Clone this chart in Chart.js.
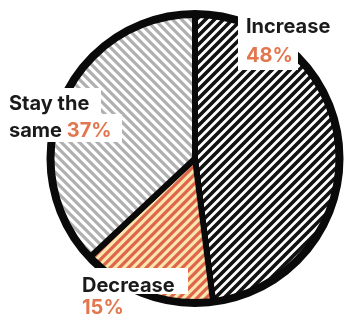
<!DOCTYPE html>
<html>
<head>
<meta charset="utf-8">
<script src="https://cdn.jsdelivr.net/npm/chart.js@4"></script>
<style>
  html, body { margin: 0; padding: 0; background: #fff; }
  #wrap { width: 344px; height: 320px; }
</style>
</head>
<body>
<div id="wrap"><canvas id="chart"></canvas></div>
<script>
// data
const categories = ['Increase', 'Decrease', 'Stay the same'];
const shares = [48, 15, 37];
const shareLabels = shares.map(v => v + '%');

// diagonal stripe tile, dir 1 = "/", dir -1 = "\"
function stripes (fg, bg, size, width, dir) {
    const c = document.createElement('canvas');
    c.width = size;
    c.height = size;
    const g = c.getContext('2d');
    g.fillStyle = bg;
    g.fillRect(0, 0, size, size);
    g.strokeStyle = fg;
    g.lineWidth = width;
    g.beginPath();
    for (let k = -1; k <= 1; k++) {
        const off = k * size;
        if (dir > 0) {
            g.moveTo(off + 2 * size, -size);
            g.lineTo(off - size, 2 * size);
        } else {
            g.moveTo(off - size, -size);
            g.lineTo(off + 2 * size, 2 * size);
        }
    }
    g.stroke();
    return g.createPattern(c, 'repeat');
}

const ctx = document.querySelector('#chart').getContext('2d');
const fills = [
    stripes('#121212', '#ffffff', 9, 3.6, 1),
    stripes('#df644c', '#fbe6ae', 9, 3.2, 1),
    stripes('#b0b0b0', '#ffffff', 9, 3.2, -1)
];

// thick outer ring
const ringPlugin = {
    id: 'ring',
    afterDatasetsDraw (chart) {
        const arc = chart.getDatasetMeta(0).data[0];
        const c = chart.ctx;
        c.save();
        c.beginPath();
        c.arc(arc.x, arc.y, arc.outerRadius, 0, Math.PI * 2);
        c.lineWidth = 8;
        c.strokeStyle = '#0a0a0a';
        c.stroke();
        c.restore();
    }
};

// label boxes with white background
const labelPlugin = {
    id: 'labels',
    afterDraw (chart) {
        const c = chart.ctx;
        const dark = '#1a1a1a';
        const orange = '#e2774f';
        c.save();
        c.fillStyle = '#ffffff';
        // Increase
        c.fillRect(238, 0, 106, 42);
        c.fillRect(238, 40, 60, 30);
        // Stay the same
        c.fillRect(0, 88, 101, 28);
        c.fillRect(0, 114, 122, 28);
        // Decrease
        c.fillRect(75, 268, 113, 26);
        c.fillRect(75, 294, 50, 26);

        c.font = '700 20px Inter';
        c.textBaseline = 'alphabetic';
        c.fillStyle = dark;
        c.fillText(categories[0], 246, 33);
        c.fillStyle = orange;
        c.fillText(shareLabels[0], 246, 62);

        c.fillStyle = dark;
        c.fillText('Stay the', 9, 110);
        c.fillText('same', 9, 137);
        const w = c.measureText('same ').width;
        c.fillStyle = orange;
        c.fillText(shareLabels[2], 9 + w, 137);

        c.fillStyle = dark;
        c.fillText(categories[1], 82, 292);
        c.fillStyle = orange;
        c.fillText(shareLabels[1], 82, 314);
        c.restore();
    }
};

new Chart(ctx, {
    type: 'pie',
    data: {
        labels: categories,
        datasets: [{
            data: shares,
            backgroundColor: fills,
            borderColor: '#0a0a0a',
            borderWidth: 6
        }]
    },
    options: {
        responsive: true,
        maintainAspectRatio: false,
        animation: false,
        layout: { padding: { top: 11, bottom: 14, left: 46, right: 0 } },
        plugins: {
            legend: { display: false },
            tooltip: { enabled: false }
        }
    },
    plugins: [ringPlugin, labelPlugin]
});
</script>
</body>
</html>
